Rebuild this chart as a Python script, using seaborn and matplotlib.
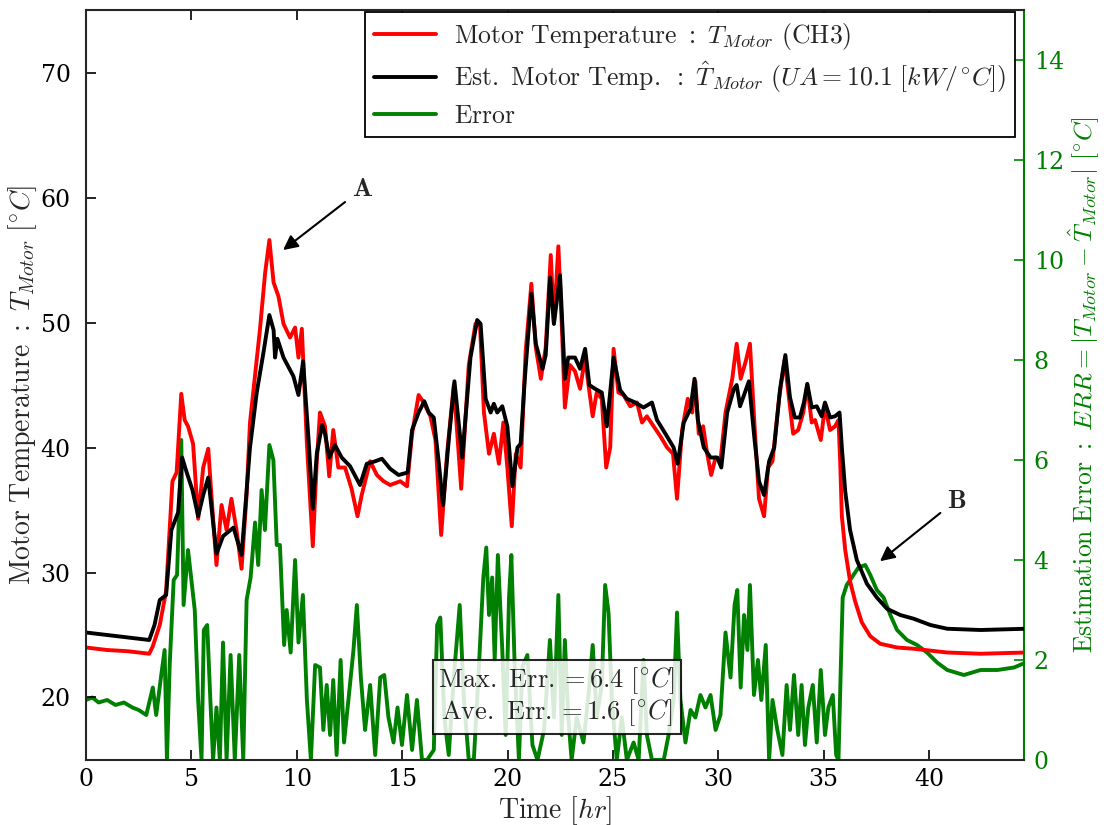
import matplotlib
matplotlib.use("Agg")
import matplotlib.pyplot as plt
import seaborn as sns
import pandas as pd
from matplotlib.lines import Line2D

# ---------------- data ----------------
t_motor = [0, 1.0, 2.0, 3.0, 3.17, 3.5, 3.8, 4.1, 4.3, 4.52, 4.68, 4.84, 5.08,
           5.32, 5.56, 5.8, 5.95, 6.19, 6.43, 6.67, 6.9, 7.14, 7.38, 7.62,
           7.78, 8.0, 8.25, 8.5, 8.7, 8.9, 9.13, 9.37, 9.68, 9.92, 10.08, 10.24, 10.48, 10.76, 10.95,
           11.1, 11.34, 11.54, 11.73, 11.97, 12.29, 12.6, 12.88, 13.08, 13.48, 13.8, 14.12, 14.43, 14.91, 15.23,
           15.47, 15.78, 16.02, 16.34, 16.58, 16.85, 17.13, 17.45, 17.8, 18.16, 18.48, 18.69, 18.88, 19.12, 19.35, 19.59, 19.8, 19.99,
           20.2, 20.39, 20.62, 20.86, 21.13, 21.34, 21.58, 21.81, 22.05, 22.2, 22.41, 22.57, 22.72, 22.96,
           23.2, 23.44, 23.68, 23.84, 24.04, 24.23, 24.47, 24.68, 24.87, 25.03, 25.26, 25.5, 25.82, 26.14, 26.38, 26.61, 26.93,
           27.25, 27.57, 27.85, 28.04, 28.28, 28.55, 28.76, 28.91, 29.07, 29.28, 29.47, 29.66, 29.87, 30.1,
           30.34, 30.66, 30.87, 31.06, 31.3, 31.5, 31.72, 31.93, 32.17, 32.36, 32.57, 32.88, 33.14,
           33.32, 33.55, 33.79, 34.03, 34.22, 34.43, 34.59, 34.86, 35.06, 35.3, 35.54, 35.7,
           35.78, 35.86, 36.02, 36.25, 36.49, 36.81, 37.21, 37.68, 38.48, 39.27, 40.86, 42.44, 44.59]
temp_motor = [24.0, 23.8, 23.7, 23.5, 24.1, 25.8, 28.5, 37.3, 38.0, 44.3, 42.2, 41.7, 40.3,
              34.3, 38.4, 39.9, 36.2, 30.6, 35.4, 33.4, 35.9, 33.4, 30.3, 36.2,
              42.0, 45.5, 49.4, 54.0, 56.6, 53.2, 52.1, 49.9, 48.8, 49.6, 47.2, 49.5, 40.3, 32.1, 38.9,
              42.8, 41.7, 37.7, 41.4, 38.4, 38.4, 36.7, 34.5, 36.2, 38.9, 37.8, 37.3, 37.0, 37.3, 36.9,
              41.1, 44.2, 43.6, 42.5, 40.6, 33.0, 39.5, 45.0, 36.7, 46.6, 49.9, 49.9, 42.8, 39.5, 41.1, 38.7, 42.0, 38.4,
              33.7, 39.5, 38.4, 47.7, 53.1, 48.0, 45.5, 48.0, 55.4, 49.9, 56.1, 49.9, 43.2, 46.6,
              46.1, 44.7, 47.2, 45.0, 42.5, 44.4, 43.9, 38.4, 40.0, 47.9, 44.4, 44.2, 43.3, 43.6, 42.0, 42.5, 41.7,
              40.9, 40.0, 39.5, 35.9, 41.4, 43.9, 42.8, 45.3, 41.1, 41.7, 39.5, 37.8, 39.2, 38.9,
              42.8, 45.5, 48.3, 45.5, 46.9, 48.3, 41.7, 35.9, 34.5, 38.4, 38.9, 43.9, 47.0,
              44.4, 41.1, 41.4, 42.8, 45.0, 42.0, 42.2, 40.6, 43.3, 41.4, 41.7, 42.2,
              38.9, 34.5, 31.8, 29.3, 27.7, 26.0, 24.9, 24.3, 24.0, 23.9, 23.6, 23.5, 23.6]

t_est = [0, 1.0, 2.0, 3.0, 3.25, 3.5, 3.8, 4.05, 4.37, 4.56, 4.76, 5.05,
         5.32, 5.56, 5.8, 6.19, 6.5, 7.0, 7.38,
         7.78, 8.1, 8.4, 8.7, 8.9, 8.97, 9.08, 9.37, 9.84, 10.08, 10.3, 10.56, 10.76, 10.95,
         11.2, 11.34, 11.54, 11.81, 12.13, 12.53, 13.0, 13.32, 13.72, 14.04, 14.43, 14.83, 15.26,
         15.47, 15.78, 16.05, 16.26, 16.5, 16.73, 16.94, 17.21, 17.48, 17.85, 18.24, 18.56, 18.72, 18.96, 19.2, 19.35, 19.51, 19.75, 19.99,
         20.23, 20.47, 20.62, 20.81, 21.13, 21.34, 21.66, 21.81, 22.02, 22.2, 22.49, 22.72, 22.88,
         23.2, 23.44, 23.68, 23.88, 24.15, 24.47, 24.71, 25.03, 25.34, 25.66, 26.06, 26.45, 26.85, 27.09,
         27.49, 27.88, 28.07, 28.36, 28.68, 28.87, 29.03, 29.31, 29.63, 29.95, 30.14,
         30.42, 30.74, 30.87, 31.03, 31.22, 31.45, 31.72, 31.93, 32.17, 32.41, 32.65, 32.93, 33.18, 33.4,
         33.63, 33.87, 34.06, 34.22, 34.43, 34.67, 34.9, 35.06, 35.3, 35.54, 35.75,
         35.86, 36.02, 36.25, 36.57, 37.05, 37.52, 38.0, 38.63, 39.27, 40.06, 40.86, 42.44, 44.59]
temp_est = [25.2, 25.0, 24.8, 24.6, 25.8, 27.8, 28.2, 33.4, 34.8, 39.2, 38.1, 36.6,
            34.5, 36.2, 37.6, 31.5, 32.9, 33.6, 31.4,
            40.0, 44.4, 47.4, 50.6, 49.4, 47.2, 48.7, 47.2, 45.7, 44.2, 46.9, 40.6, 35.1, 39.5,
            41.8, 41.1, 39.2, 40.2, 39.2, 38.5, 37.0, 38.7, 38.9, 39.1, 38.3, 37.8, 38.0,
            41.4, 42.8, 43.7, 42.8, 42.4, 38.9, 35.4, 40.6, 45.3, 39.2, 47.2, 50.2, 49.9, 43.9, 42.8, 43.5, 42.8, 43.3, 41.7,
            36.9, 40.0, 40.3, 45.3, 52.3, 48.3, 46.3, 47.4, 53.6, 49.9, 53.8, 45.5, 47.2,
            47.2, 46.3, 47.9, 45.0, 44.7, 44.4, 41.7, 47.2, 44.6, 43.9, 43.6, 43.2, 43.6, 42.2,
            41.1, 40.0, 38.7, 42.0, 43.1, 45.5, 42.2, 40.0, 39.2, 39.2, 38.4,
            42.8, 44.7, 45.0, 43.3, 44.2, 45.3, 40.6, 37.3, 36.2, 38.9, 40.0, 44.7, 47.4, 44.0,
            42.4, 42.4, 43.6, 45.1, 43.2, 43.3, 42.5, 43.6, 42.4, 42.5, 42.8,
            40.0, 36.5, 33.4, 31.0, 29.1, 28.0, 27.1, 26.6, 26.3, 25.8, 25.5, 25.4, 25.5]

t_err = [0, 0.3, 0.6, 1.0, 1.4, 1.8, 2.2, 2.5, 2.86, 3.17, 3.33, 3.57, 3.73, 3.84, 3.97,
         4.16, 4.32, 4.52, 4.63, 4.84, 5.0, 5.16, 5.32, 5.48, 5.59, 5.75, 5.9, 6.03, 6.19, 6.35, 6.5, 6.67, 6.86, 7.06, 7.27, 7.46,
         7.62, 7.81, 8.02, 8.17, 8.33, 8.49, 8.7, 8.89, 9.05, 9.2, 9.4, 9.52, 9.71, 9.92, 10.08, 10.29, 10.48, 10.67, 10.87, 11.1,
         11.26, 11.42, 11.58, 11.73, 11.89, 12.08, 12.24, 12.45, 12.69, 12.85, 13.04, 13.24, 13.48, 13.72, 13.96, 14.15, 14.35, 14.59, 14.78, 14.99,
         15.23, 15.47, 15.7, 15.94, 16.18, 16.5, 16.66, 16.81, 17.0, 17.21, 17.45, 17.73, 17.93, 18.16, 18.4, 18.64, 18.85, 18.99,
         19.12, 19.27, 19.39, 19.54, 19.75, 19.91, 20.07, 20.18, 20.34, 20.54, 20.7, 20.94, 21.18, 21.42, 21.73,
         22.01, 22.2, 22.41, 22.57, 22.72, 22.88, 23.04, 23.28, 23.6, 23.84, 24.04, 24.23, 24.47, 24.63, 24.79, 24.95, 25.18, 25.42, 25.66, 25.98,
         26.22, 26.45, 26.61, 26.85, 27.09, 27.41, 27.64, 27.88, 28.04, 28.2, 28.44, 28.68, 28.91, 29.15, 29.39, 29.63, 29.87, 30.1,
         30.34, 30.58, 30.77, 30.9, 31.06, 31.22, 31.38, 31.5, 31.69, 31.88, 32.04, 32.25, 32.41, 32.57, 32.8, 33.04,
         33.24, 33.4, 33.59, 33.79, 33.95, 34.11, 34.27, 34.48, 34.67, 34.86, 35.06, 35.22, 35.43, 35.59, 35.7,
         35.81, 35.9, 36.09, 36.33, 36.65, 36.97, 37.21, 37.52, 37.84, 38.16, 38.48, 38.95, 39.43, 39.9, 40.38, 40.86, 41.65, 42.44, 43.24, 44.03, 44.59]
err = [1.2, 1.25, 1.15, 1.2, 1.1, 1.15, 1.05, 1.0, 0.9, 1.45, 0.9, 1.7, 2.2, 0.0, 1.9,
       3.6, 3.7, 6.4, 3.1, 4.2, 3.6, 3.0, 1.2, 0.0, 2.6, 2.7, 1.2, 0.0, 1.05, 0.0, 2.35, 0.0, 2.1, 0.0, 2.1, 0.0,
       3.2, 3.65, 4.75, 3.9, 5.4, 4.6, 6.3, 6.0, 4.3, 4.3, 2.3, 3.0, 2.15, 4.0, 2.35, 3.3, 1.2, 0.0, 1.9, 1.85,
       0.6, 1.5, 0.5, 1.6, 0.1, 2.0, 0.35, 1.2, 2.2, 3.1, 1.65, 0.6, 1.5, 0.1, 1.65, 1.7, 0.85, 0.35, 1.05, 0.3,
       1.3, 0.2, 1.2, 0.0, 0.0, 0.2, 2.7, 2.85, 0.85, 0.1, 1.65, 3.1, 1.2, 0.0, 0.0, 1.85, 3.65, 4.25,
       2.9, 3.65, 2.0, 4.1, 2.2, 0.5, 3.25, 4.1, 1.85, 0.0, 1.85, 2.1, 0.3, 0.0, 0.6,
       2.4, 0.85, 3.3, 0.5, 2.4, 0.85, 0.0, 0.85, 0.35, 1.3, 2.3, 0.85, 1.5, 3.5, 2.95, 1.2, 0.0, 0.85, 0.0, 0.35,
       0.0, 2.0, 0.5, 0.0, 0.0, 0.0, 0.5, 1.2, 2.95, 1.2, 0.35, 1.0, 0.85, 1.3, 1.05, 1.3, 0.6, 0.9,
       2.55, 1.65, 3.1, 3.4, 1.45, 2.9, 2.2, 3.5, 1.3, 2.0, 1.2, 2.3, 0.0, 1.2, 0.6, 0.1,
       1.5, 0.6, 1.7, 0.5, 1.5, 0.3, 1.05, 1.5, 0.35, 1.8, 0.5, 1.05, 1.3, 0.1, 0.0,
       1.85, 3.25, 3.5, 3.65, 3.85, 3.9, 3.7, 3.4, 3.25, 2.9, 2.6, 2.4, 2.3, 2.15, 1.95, 1.8, 1.7, 1.8, 1.8, 1.85, 1.95]

x_ticks = [0, 5, 10, 15, 20, 25, 30, 35, 40]
left_ticks = [20, 30, 40, 50, 60, 70]
right_ticks = [0, 2, 4, 6, 8, 10, 12, 14]
max_err = 6.4
ave_err = 1.6

# ---------------- style ----------------
sns.set_style("ticks")
plt.rcParams["font.family"] = ["DejaVu Serif"]
plt.rcParams["mathtext.fontset"] = "cm"
plt.rcParams["axes.linewidth"] = 1.5

GREEN = "#008000"
RED = "#ff0000"

fig = plt.figure(figsize=(11.04, 8.25), dpi=100)
ax = fig.add_axes([0.0779, 0.0788, 0.8496, 0.909])
ax2 = ax.twinx()

df_m = pd.DataFrame({"t": t_motor, "T": temp_motor})
df_e = pd.DataFrame({"t": t_est, "T": temp_est})
df_r = pd.DataFrame({"t": t_err, "E": err})

sns.lineplot(data=df_r, x="t", y="E", ax=ax2, color=GREEN, lw=2.8,
             estimator=None, sort=False)
sns.lineplot(data=df_m, x="t", y="T", ax=ax, color=RED, lw=2.8,
             estimator=None, sort=False)
sns.lineplot(data=df_e, x="t", y="T", ax=ax, color="black", lw=2.8,
             estimator=None, sort=False)

ax.set_zorder(ax2.get_zorder() + 1)
ax.patch.set_visible(False)

ax.set_xlim(0, 44.5)
ax.set_ylim(15, 75)
ax2.set_ylim(0, 15)
ax.set_xticks(x_ticks)
ax.set_yticks(left_ticks)
ax2.set_yticks(right_ticks)

ax.tick_params(axis="both", direction="in", length=7, width=1.2, labelsize=17,
               colors="black", top=True)
ax.tick_params(axis="y", right=False, pad=11)
ax.tick_params(axis="x", pad=6)
ax2.tick_params(axis="y", direction="in", length=7, width=1.2, labelsize=17,
                colors=GREEN, pad=7)
ax.spines["right"].set_visible(False)
ax2.spines["right"].set_color(GREEN)
ax2.spines["right"].set_linewidth(1.5)
for s in ["left", "top", "bottom"]:
    ax2.spines[s].set_visible(False)

ax.set_xlabel(r"$\mathrm{Time}\ [hr]$", fontsize=20, labelpad=2)
ax.set_ylabel(r"$\mathrm{Motor\ Temperature\ :\ }T_{Motor}\ [^{\circ}C]$",
              fontsize=20, labelpad=1)
ax2.set_ylabel(r"$\mathrm{Estimation\ Error\ :\ }ERR=|T_{Motor}-\hat{T}_{Motor}|\ [^{\circ}C]$",
               fontsize=18.5, color=GREEN, labelpad=2)

handles = [Line2D([], [], color=RED, lw=2.8),
           Line2D([], [], color="black", lw=2.8),
           Line2D([], [], color=GREEN, lw=2.8)]
labels = [r"$\mathrm{Motor\ Temperature\ :\ }T_{Motor}\ \mathrm{(CH3)}$",
          r"$\mathrm{Est.\ Motor\ Temp.\ :\ }\hat{T}_{Motor}\ (UA=10.1\ [kW/^{\circ}C])$",
          r"$\mathrm{Error}$"]
leg = ax.legend(handles, labels, loc="upper right", bbox_to_anchor=(0.990, 0.997),
                borderaxespad=0, fontsize=18.5, frameon=True, fancybox=False,
                framealpha=1, edgecolor="black", handlelength=2.4,
                handletextpad=0.7, labelspacing=0.3, borderpad=0.35)
leg.get_frame().set_linewidth(1.3)

ax.text(0.502, 0.084,
        r"$\mathrm{Max.\ Err.}=%.1f\ [^{\circ}C]$" % max_err + "\n" +
        r"$\mathrm{Ave.\ Err.}=%.1f\ [^{\circ}C]$" % ave_err,
        transform=ax.transAxes, ha="center", va="center", fontsize=19,
        multialignment="center", linespacing=1.05,
        bbox=dict(boxstyle="square,pad=0.2", facecolor="white", alpha=0.85,
                  edgecolor="black", linewidth=1.5), zorder=10)

arrow = dict(arrowstyle="-|>", color="black", lw=1.5, mutation_scale=22,
             shrinkA=3, shrinkB=0)
ax.annotate(r"$\mathbf{A}$", xy=(9.35, 55.8), xytext=(13.1, 60.7),
            fontsize=19, ha="center", va="center", arrowprops=arrow)
ax.annotate(r"$\mathbf{B}$", xy=(37.67, 30.9), xytext=(41.3, 35.8),
            fontsize=19, ha="center", va="center", arrowprops=arrow)

fig.savefig("out.png", dpi=100)
